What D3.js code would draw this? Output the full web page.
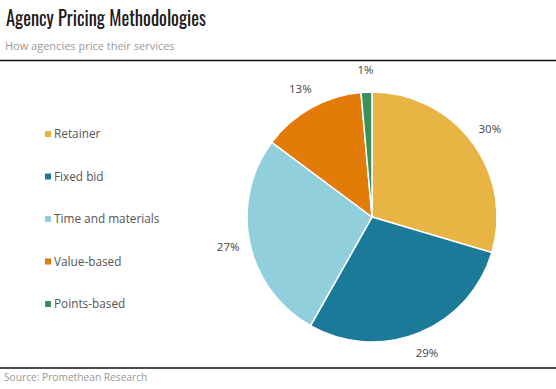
<!DOCTYPE html>
<html>
<head>
<meta charset="utf-8">
<script src="https://cdn.jsdelivr.net/npm/d3@7"></script>
<style>
  body { margin: 0; background: #fff; }
  svg { display: block; }
</style>
</head>
<body>
<svg id="chart" width="556" height="389"></svg>
<script>
const categories = ["Retainer", "Fixed bid", "Time and materials", "Value-based", "Points-based"];
const values = [29.6, 28.6, 27.0, 13.4, 1.4];
const colors = ["#e8b443", "#1c7a99", "#92cfdc", "#e27b07", "#3d8f5e"];

const data = categories.map((c, i) => ({ name: c, value: values[i], color: colors[i] }));

const svg = d3.select("#chart");
const textFont = "'Open Sans', 'DejaVu Sans', sans-serif";

// header
svg.append("text")
    .attr("x", 6)
    .attr("y", 26)
    .attr("font-family", "Oswald, 'Liberation Sans Narrow', 'DejaVu Sans Condensed', sans-serif")
    .attr("font-size", 20)
    .attr("textLength", 200)
    .attr("lengthAdjust", "spacingAndGlyphs")
    .attr("fill", "#1a1a1a")
    .text("Agency Pricing Methodologies");

svg.append("text")
    .attr("x", 5)
    .attr("y", 50)
    .attr("font-family", textFont)
    .attr("font-size", 11)
    .attr("fill", "#999")
    .text("How agencies price their services");

svg.append("line")
    .attr("x1", 0).attr("x2", 556)
    .attr("y1", 60.5).attr("y2", 60.5)
    .attr("stroke", "#111")
    .attr("stroke-width", 1.5);

svg.append("line")
    .attr("x1", 0).attr("x2", 556)
    .attr("y1", 368).attr("y2", 368)
    .attr("stroke", "#111")
    .attr("stroke-width", 1.5);

svg.append("text")
    .attr("x", 4)
    .attr("y", 381)
    .attr("font-family", textFont)
    .attr("font-size", 10.2)
    .attr("fill", "#999")
    .text("Source: Promethean Research");

// legend
const legendY = d3.scalePoint()
    .domain(categories)
    .range([134, 304]);

const legend = svg.append("g")
    .selectAll("g")
    .data(data)
    .enter()
    .append("g")
    .attr("transform", (d) => `translate(45,${legendY(d.name)})`);

legend.append("rect")
    .attr("x", 0)
    .attr("y", -3)
    .attr("width", 6)
    .attr("height", 6)
    .attr("fill", (d) => d.color);

legend.append("text")
    .attr("x", 9)
    .attr("y", 4)
    .attr("font-family", textFont)
    .attr("font-size", 11.8)
    .attr("fill", "#555")
    .text((d) => d.name);

// pie
const cx = 372, cy = 217, r = 125;
const pie = d3.pie()
    .sort(null)
    .value((d) => d.value);

const arc = d3.arc()
    .innerRadius(0)
    .outerRadius(r);

const labelArc = d3.arc()
    .innerRadius(r + 22)
    .outerRadius(r + 22);

const g = svg.append("g").attr("transform", `translate(${cx},${cy})`);
const arcs = pie(data);

g.selectAll("path")
    .data(arcs)
    .enter()
    .append("path")
    .attr("d", arc)
    .attr("fill", (d) => d.data.color)
    .attr("stroke", "#fff")
    .attr("stroke-width", 1.5);

g.selectAll("text")
    .data(arcs)
    .enter()
    .append("text")
    .attr("transform", (d) => `translate(${labelArc.centroid(d)})`)
    .attr("text-anchor", "middle")
    .attr("dy", "0.35em")
    .attr("font-family", textFont)
    .attr("font-size", 11.5)
    .attr("fill", "#444")
    .text((d) => Math.round(d.data.value) + "%");
</script>
</body>
</html>
